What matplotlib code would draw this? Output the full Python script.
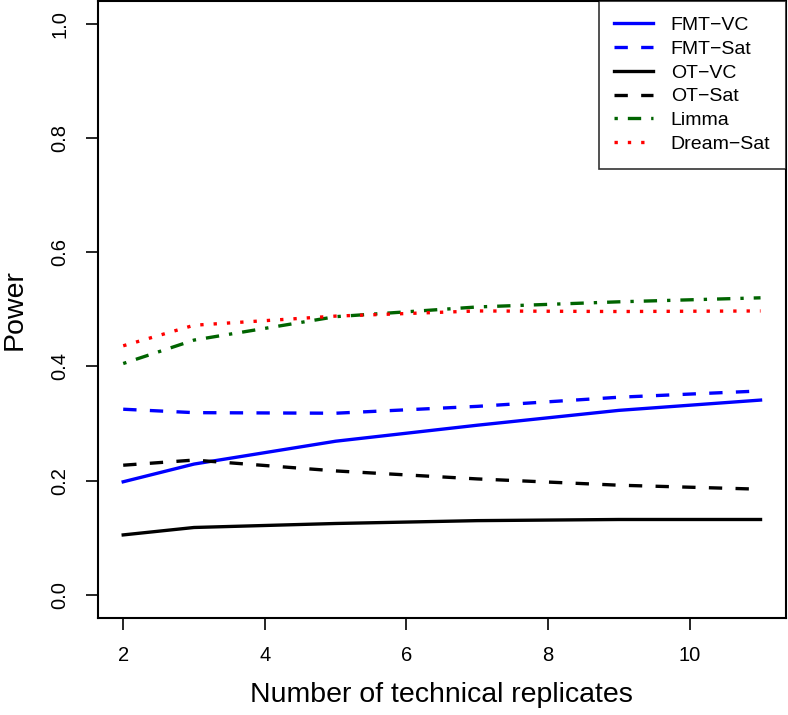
import numpy as np
import matplotlib
matplotlib.use("Agg")
import matplotlib.pyplot as plt

plt.rcParams["font.family"] = ["Liberation Sans", "DejaVu Sans"]

# number of technical replicates
reps = [2, 3, 5, 7, 9, 11]

# power per method
fmt_vc    = [0.198, 0.229, 0.269, 0.297, 0.323, 0.341]
fmt_sat   = [0.325, 0.319, 0.318, 0.330, 0.346, 0.357]
ot_vc     = [0.105, 0.118, 0.125, 0.130, 0.132, 0.132]
ot_sat    = [0.227, 0.236, 0.217, 0.203, 0.192, 0.185]
limma     = [0.405, 0.446, 0.487, 0.504, 0.513, 0.520]
dream_sat = [0.436, 0.472, 0.488, 0.497, 0.496, 0.497]

labels = ["FMT\u2212VC", "FMT\u2212Sat", "OT\u2212VC", "OT\u2212Sat", "Limma", "Dream\u2212Sat"]

lw = 2.4

fig = plt.figure(figsize=(7.88, 7.15), dpi=100)
ax = fig.add_axes([0.124, 0.136, 0.8735, 0.863])

ax.plot(reps, fmt_vc, color="blue", lw=lw, label=labels[0])
ax.plot(reps, fmt_sat, color="blue", lw=lw, dashes=(4, 4), label=labels[1])
ax.plot(reps, ot_vc, color="black", lw=lw, label=labels[2])
ax.plot(reps, ot_sat, color="black", lw=lw, dashes=(4, 4), label=labels[3])
ax.plot(reps, limma, color="darkgreen", lw=lw, dashes=(1, 3, 4, 3), label=labels[4])
ax.plot(reps, dream_sat, color="red", lw=lw, dashes=(1, 3), label=labels[5])

ax.set_xlim(1.64, 11.36)
ax.set_ylim(-0.04, 1.04)
ax.set_xticks([2, 4, 6, 8, 10])
ax.set_yticks([0.0, 0.2, 0.4, 0.6, 0.8, 1.0])
ax.set_yticklabels(["0.0", "0.2", "0.4", "0.6", "0.8", "1.0"], rotation=90, va="center")
ax.tick_params(labelsize=14.5, length=8.5, width=1.2, pad=12)
for s in ax.spines.values():
    s.set_linewidth(1.5)

ax.set_xlabel("Number of technical replicates", fontsize=20.5, labelpad=12)
ax.set_ylabel("Power", fontsize=20.5, labelpad=16)

leg = ax.legend(loc="upper right", fontsize=14, frameon=True, fancybox=False,
                handlelength=2.0, handletextpad=0.9, borderaxespad=0,
                borderpad=0.8, labelspacing=0.32)
leg.get_frame().set_edgecolor("black")
leg.get_frame().set_linewidth(1.2)

fig.savefig("out.png", dpi=100)
